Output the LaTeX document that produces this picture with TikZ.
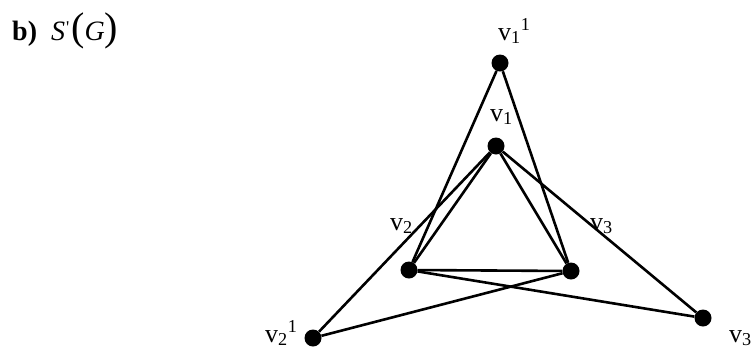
\documentclass[tikz,border=0pt]{standalone}
\usepackage{fontspec}
\setmainfont{Liberation Serif}
\begin{document}
\begin{tikzpicture}[x=1pt,y=-1pt,
  vtx/.style={circle,fill=black,inner sep=0pt,minimum size=17pt},
  lbl/.style={anchor=base west,inner sep=0pt,font=\fontsize{26}{30}\selectfont},
  edge/.style={line width=2.6pt}]
\useasboundingbox (0,0) rectangle (756,349);
\node[lbl,font=\fontsize{28}{32}\selectfont] (title) at (12,40) {\textbf{b)}\hspace{14pt}\textit{S}\kern1pt\raisebox{7pt}{\fontsize{18}{18}\selectfont\textquotesingle}\kern2pt{\fontsize{40}{40}\selectfont (}\textit{G}{\fontsize{40}{40}\selectfont )}};
\node[vtx] (v1p) at (500,63) {};
\node[vtx] (v1) at (496,146) {};
\node[vtx] (v2) at (409,270) {};
\node[vtx] (v3) at (571,271) {};
\node[vtx] (v2p) at (313,338) {};
\node[vtx] (v3p) at (703,318) {};
\draw[edge] (v1) -- (v2) -- (v3) -- (v1);
\draw[edge] (v1p) -- (v2);
\draw[edge] (v1p) -- (v3);
\draw[edge] (v2p) -- (v1);
\draw[edge] (v2p) -- (v3);
\draw[edge] (v3p) -- (v1);
\draw[edge] (v3p) -- (v2);
\node[lbl] (l1p) at (498,40) {v\textsubscript{1}\textsuperscript{1}};
\node[lbl] (l1) at (490,121) {v\textsubscript{1}};
\node[lbl] (l2) at (390,230) {v\textsubscript{2}};
\node[lbl] (l3) at (590,230) {v\textsubscript{3}};
\node[lbl] (l2p) at (265,342) {v\textsubscript{2}\textsuperscript{1}};
\node[lbl] (l3p) at (729,342) {v\textsubscript{3}};
\end{tikzpicture}
\end{document}
